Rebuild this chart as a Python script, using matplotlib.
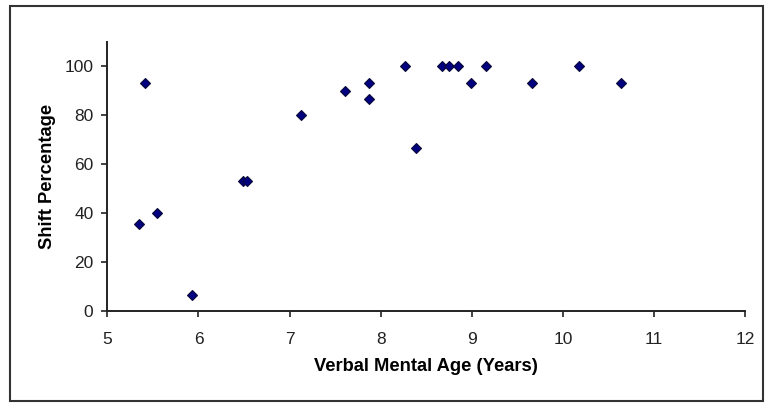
import matplotlib.pyplot as plt
from matplotlib.patches import Rectangle

plt.rcParams['font.family'] = ['Liberation Sans', 'DejaVu Sans']

# verbal mental age (years) and shift percentage
age = [5.35, 5.41, 5.55, 5.93, 6.49, 6.53, 7.12, 7.61, 7.87, 7.87,
       8.27, 8.39, 8.67, 8.75, 8.85, 8.99, 9.15, 9.66, 10.18, 10.64]
shift = [35.7, 93.3, 40.0, 6.7, 53.3, 53.3, 80.0, 90.0, 93.3, 86.7,
         100.0, 66.7, 100.0, 100.0, 100.0, 93.3, 100.0, 93.3, 100.0, 93.3]

x_ticks = [5, 6, 7, 8, 9, 10, 11, 12]
y_ticks = [0, 20, 40, 60, 80, 100]

fig = plt.figure(figsize=(7.65, 4.03), dpi=100)
ax = fig.add_axes([0.1403, 0.2283, 0.834, 0.6682])

ax.plot(age, shift, linestyle='none', marker='D', markersize=5,
        markerfacecolor='#000080', markeredgecolor='#0a0a3a', markeredgewidth=0.8)

ax.set_xlim(5, 12)
ax.set_ylim(0, 110)
ax.set_xticks(x_ticks)
ax.set_yticks(y_ticks)
ax.tick_params(labelsize=12.5, direction='out', length=4, width=1.2, colors='#222222')
ax.tick_params(axis='x', pad=11)
ax.tick_params(axis='y', pad=6)

for s in ['top', 'right']:
    ax.spines[s].set_visible(False)
for s in ['left', 'bottom']:
    ax.spines[s].set_linewidth(1.4)
    ax.spines[s].set_color('#222222')

ax.set_xlabel('Verbal Mental Age (Years)', fontsize=13.2, fontweight='bold', labelpad=8)
ax.set_ylabel('Shift Percentage', fontsize=13.2, fontweight='bold', labelpad=6)

# outer frame
fig.patches.append(Rectangle((0.013, 0.004), 0.984, 0.98, transform=fig.transFigure,
                             fill=False, edgecolor='#333333', linewidth=1.5))

fig.savefig('out.png', dpi=100)
